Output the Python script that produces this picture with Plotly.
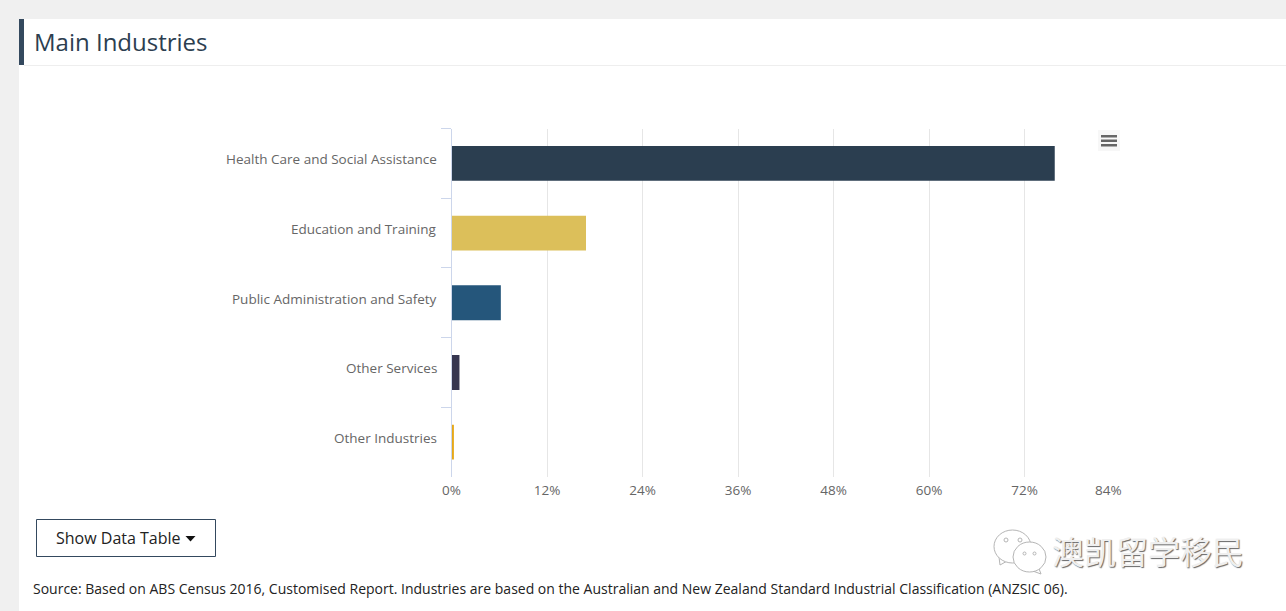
import plotly.graph_objects as go

W = 1286
H = 611

industries = [
    "Health Care and Social Assistance",
    "Education and Training",
    "Public Administration and Safety",
    "Other Services",
    "Other Industries",
]
shares = [75.8, 16.9, 6.2, 1.0, 0.3]
barColors = ["#2b3e50", "#dcbf5a", "#25567b", "#363650", "#e6a817"]
tickValues = [0, 12, 24, 36, 48, 60, 72, 84]
tickLabels = ["0%", "12%", "24%", "36%", "48%", "60%", "72%", ""]


def px(x):
    return x / W


def py(y):
    return 1 - y / H


def box(x0, y0, x1, y1, fill=None, line=None, width=1, shape="rect"):
    return dict(
        type=shape, xref="paper", yref="paper", layer="below",
        x0=px(x0), x1=px(x1), y0=py(y0), y1=py(y1),
        fillcolor=fill, line=dict(color=line, width=width if line else 0),
    )


def label(x, y, text, size, color, anchor="left", family="Open Sans"):
    return dict(
        xref="paper", yref="paper", x=px(x), y=py(y), text=text, showarrow=False,
        xanchor=anchor, yanchor="middle", font=dict(family=family, size=size, color=color),
    )


def tail(points, fill="white", line="#b5b5b5"):
    path = "M " + " L ".join(f"{px(a)} {py(b)}" for a, b in points) + " Z"
    return dict(type="path", xref="paper", yref="paper", path=path, layer="below",
                fillcolor=fill, line=dict(color=line, width=1 if line else 0))


shapes = [
    box(19, 19, W, H, fill="white"),
    box(19, 19, 24, 65, fill="#34495e"),
    box(24, 65, W, 66, fill="#eeeeee"),
    # button
    box(36.5, 519.5, 215.5, 556.5, fill="white", line="#34495e"),
    tail([(185.5, 536), (195.5, 536), (190.5, 541.5)], fill="#111111", line=None),
    # export menu icon
    box(1098, 130, 1120, 151, fill="#f7f7f7"),
    box(1101, 135, 1117, 137.5, fill="#666666"),
    box(1101, 139.5, 1117, 142, fill="#666666"),
    box(1101, 144, 1117, 146.5, fill="#666666"),
    # watermark bubbles
    tail([(999, 557), (1000, 565), (1009, 560)]),
    box(994, 530, 1031, 563, fill="white", line="#b5b5b5", shape="circle"),
    tail([(1038, 566), (1041, 574), (1030, 570)]),
    box(1013, 542, 1046, 572, fill="white", line="#b5b5b5", shape="circle"),
    box(1004, 538, 1008, 542, line="#b5b5b5", shape="circle"),
    box(1018, 538, 1022, 542, line="#b5b5b5", shape="circle"),
    box(1023, 552, 1026, 555, line="#b5b5b5", shape="circle"),
    box(1033, 552, 1036, 555, line="#b5b5b5", shape="circle"),
]

annotations = [
    label(32, 41.5, "Main Industries", 24, "#2c3e50"),
    label(54, 538, "Show Data Table", 16, "#222222"),
    label(30.5, 588.5, "Source: Based on ABS Census 2016, Customised Report. Industries are based on "
                       "the Australian and New Zealand Standard Industrial Classification (ANZSIC 06).",
          14, "#222222"),
    dict(xref="x", yref="paper", x=84, y=py(489.5), xshift=-12, text="84%", showarrow=False,
         xanchor="center", yanchor="middle", font=dict(family="Open Sans", size=13.5, color="#666666")),
    dict(xref="paper", yref="paper", x=px(1050), y=py(550), text="澳凯留学移民", showarrow=False,
         xanchor="left", yanchor="middle",
         font=dict(family="Noto Sans CJK SC", size=32, color="#efefef", shadow="1px 1px 1px #666666")),
]

# category labels sit a little above the band centres
for name in industries:
    annotations.append(dict(
        xref="paper", yref="y", x=px(439), y=name, yshift=4, text=name, showarrow=False,
        xanchor="right", yanchor="middle", font=dict(family="Open Sans", size=13.5, color="#666666"),
    ))

fig = go.Figure()
fig.add_trace(go.Bar(
    x=shares,
    y=industries,
    orientation="h",
    marker=dict(color=barColors, line=dict(width=0)),
    width=0.5,
))
fig.update_layout(
    width=W,
    height=H,
    autosize=False,
    margin=dict(l=0, r=0, t=0, b=0, autoexpand=False),
    paper_bgcolor="#f0f0f0",
    plot_bgcolor="rgba(0,0,0,0)",
    showlegend=False,
    shapes=shapes,
    annotations=annotations,
    font=dict(family="Open Sans", size=13.5, color="#666666"),
)
fig.update_xaxes(
    domain=[px(451.5), px(1120)],
    range=[0, 84],
    tickvals=tickValues,
    ticktext=tickLabels,
    showgrid=True,
    gridcolor="#e6e6e6",
    zeroline=False,
    showline=False,
    ticks="",
    ticklabelstandoff=3,
    tickfont=dict(family="Open Sans", size=13.5, color="#666666"),
)
fig.update_yaxes(
    domain=[py(477), py(128.5)],
    autorange="reversed",
    tickson="boundaries",
    ticks="outside",
    ticklen=10,
    tickcolor="#ccd6eb",
    showline=True,
    linecolor="#ccd6eb",
    linewidth=1,
    showgrid=False,
    showticklabels=False,
)

fig.write_html("out.html", config=dict(displayModeBar=False),
               post_script="document.body.style.margin='0';")
